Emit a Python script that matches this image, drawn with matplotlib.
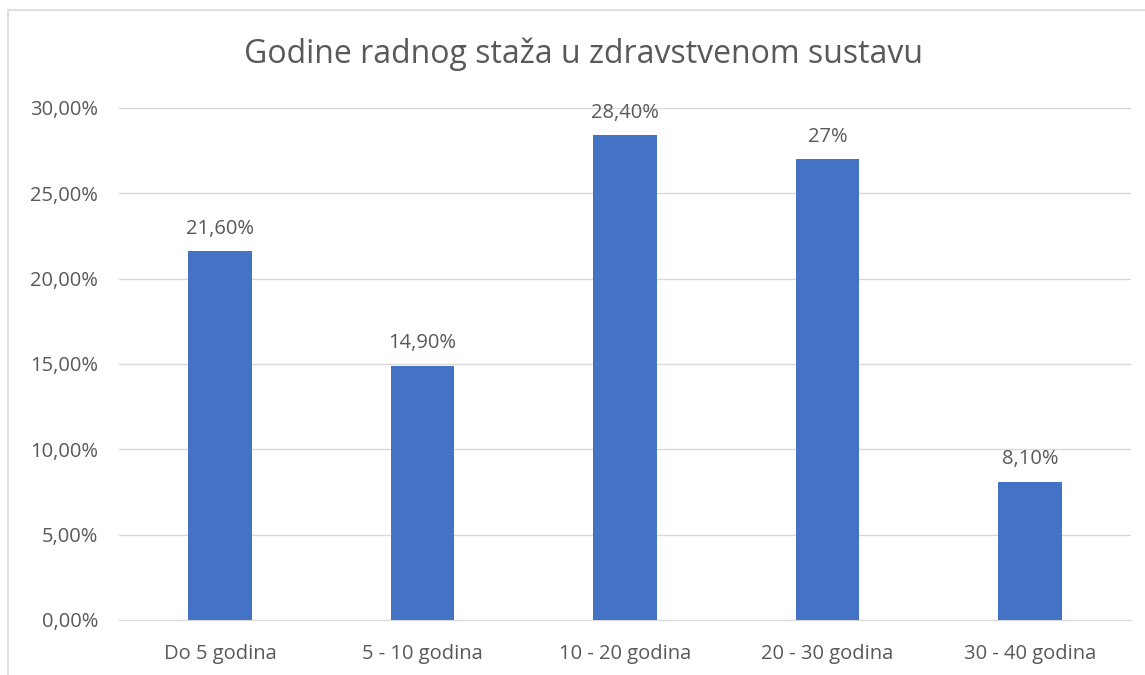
import matplotlib.pyplot as plt
from matplotlib.patches import Rectangle
from matplotlib.ticker import FuncFormatter

# Podaci
kategorije = ["Do 5 godina", "5 - 10 godina", "10 - 20 godina", "20 - 30 godina", "30 - 40 godina"]
postoci = [21.6, 14.9, 28.4, 27.0, 8.1]
oznake = ["21,60%", "14,90%", "28,40%", "27%", "8,10%"]
y_ticks = [0, 5, 10, 15, 20, 25, 30]

BOJA_STUPCA = "#4472c4"
BOJA_TEKSTA = "#595959"
BOJA_MREZE = "#d9d9d9"

plt.rcParams['font.family'] = ['Open Sans', 'DejaVu Sans']

fig = plt.figure(figsize=(11.45, 6.75), dpi=100)
ax = fig.add_axes([119 / 1145, 55 / 675, 1012 / 1145, 512 / 675])

x = range(len(kategorije))
ax.bar(x, postoci, width=0.315, color=BOJA_STUPCA, zorder=3)

# Oznake iznad stupaca
for xi, v, txt in zip(x, postoci, oznake):
    ax.annotate(txt, (xi, v), xytext=(0, 9), textcoords="offset points",
                ha="center", va="bottom", fontsize=14.5, color=BOJA_TEKSTA)

ax.set_xlim(-0.5, len(kategorije) - 0.5)
ax.set_ylim(0, 30)
ax.set_yticks(y_ticks)
ax.yaxis.set_major_formatter(FuncFormatter(lambda v, _: f"{v:.2f}%".replace(".", ",")))
ax.set_xticks(list(x))
ax.set_xticklabels(kategorije)
ax.tick_params(axis="both", length=0, labelsize=14.5, labelcolor=BOJA_TEKSTA)
ax.tick_params(axis="y", pad=15)
ax.tick_params(axis="x", pad=17)

ax.grid(axis="y", color=BOJA_MREZE, linewidth=1, zorder=0)
for s in ["top", "right", "left"]:
    ax.spines[s].set_visible(False)
ax.spines["bottom"].set_color(BOJA_MREZE)

fig.text(584 / 1145, 1 - 54 / 675, "Godine radnog staža u zdravstvenom sustavu",
         ha="center", va="center", fontsize=23, color=BOJA_TEKSTA)

# Okvir grafikona
fig.patches.append(Rectangle((8 / 1145, -0.05), 1.1, 1.05 - 10 / 675,
                             transform=fig.transFigure, fill=False,
                             edgecolor=BOJA_MREZE, linewidth=1.2))

fig.savefig("out.png", dpi=100)
